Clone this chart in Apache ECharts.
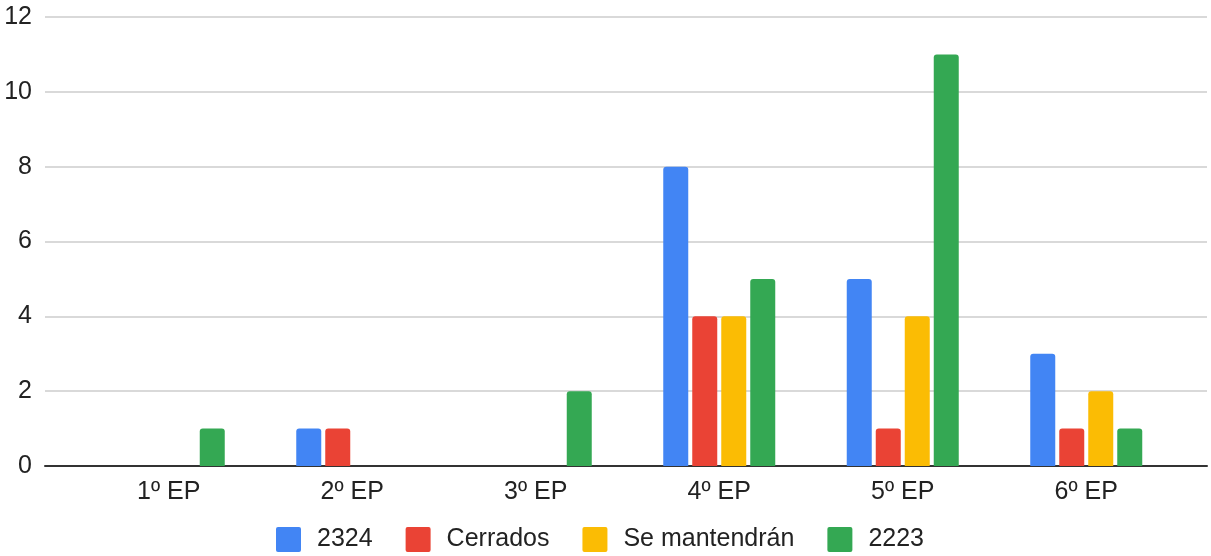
<!DOCTYPE html>
<html>
<head>
<meta charset="utf-8">
<script src="https://cdn.jsdelivr.net/npm/echarts@6/dist/echarts.min.js"></script>
<style>
  html, body { margin: 0; padding: 0; background: #fff; }
  #chart { width: 1211px; height: 556px; }
</style>
</head>
<body>
<div id="chart"></div>
<script>
// Categories (school years) and series values
const categories = ['1º EP', '2º EP', '3º EP', '4º EP', '5º EP', '6º EP'];
const s2324 = [0, 1, 0, 8, 5, 3];
const cerrados = [0, 1, 0, 4, 1, 1];
const seMantendran = [0, 0, 0, 4, 4, 2];
const s2223 = [1, 0, 2, 5, 11, 1];
const yTicks = [0, 2, 4, 6, 8, 10, 12];

const seriesNames = ['2324', 'Cerrados', 'Se mantendrán', '2223'];
const seriesData = [s2324, cerrados, seMantendran, s2223];
const colors = ['#4285F4', '#EA4335', '#FBBC04', '#34A853'];

const font = '"Liberation Sans", Arial, sans-serif';
const yMin = yTicks[0];
const yMax = yTicks[yTicks.length - 1];
const yStep = yTicks[1] - yTicks[0];

// square legend swatch with slightly rounded corners
const swatch = 'path://M2,0 H23 A2,2 0 0 1 25,2 V23 A2,2 0 0 1 23,25 H2 A2,2 0 0 1 0,23 V2 A2,2 0 0 1 2,0 Z';

const chart = echarts.init(document.getElementById('chart'), null, { renderer: 'canvas' });

chart.setOption({
  animation: false,
  color: colors,
  grid: [
    // full-width grid: gridlines, y labels and the baseline
    { left: 45, right: 4, top: 17, bottom: 90 },
    // inner grid holding the category bands and the bars
    { left: 77, right: 33, top: 17, bottom: 90 }
  ],
  xAxis: [
    {
      gridIndex: 0, type: 'category', data: [''],
      axisLine: { show: true, lineStyle: { color: '#333', width: 2 } },
      axisTick: { show: false }, axisLabel: { show: false }, splitLine: { show: false }
    },
    {
      gridIndex: 1, type: 'category', data: categories,
      axisLine: { show: false }, axisTick: { show: false },
      axisLabel: { color: '#222', fontSize: 25, fontFamily: font, margin: 14 }
    }
  ],
  yAxis: [
    {
      gridIndex: 0, type: 'value', min: yMin, max: yMax, interval: yStep,
      axisLine: { show: false }, axisTick: { show: false },
      axisLabel: { color: '#222', fontSize: 25, fontFamily: font, margin: 13 },
      splitLine: { lineStyle: { color: '#cccccc', width: 1.5 } }
    },
    {
      gridIndex: 1, type: 'value', min: yMin, max: yMax, interval: yStep,
      axisLine: { show: false }, axisTick: { show: false },
      axisLabel: { show: false }, splitLine: { show: false }
    }
  ],
  legend: {
    left: 271, top: 522,
    itemWidth: 25, itemHeight: 25, itemGap: 33,
    icon: swatch,
    textStyle: { color: '#222', fontSize: 25, fontFamily: font, padding: [0, 0, 0, 11] },
    data: seriesNames
  },
  series: seriesNames.map((name, i) => ({
    name: name,
    type: 'bar',
    xAxisIndex: 1,
    yAxisIndex: 1,
    data: seriesData[i],
    barWidth: 25,
    barGap: '16%',
    z: 3,
    itemStyle: { color: colors[i], borderRadius: [3, 3, 0, 0] }
  }))
});
</script>
</body>
</html>
